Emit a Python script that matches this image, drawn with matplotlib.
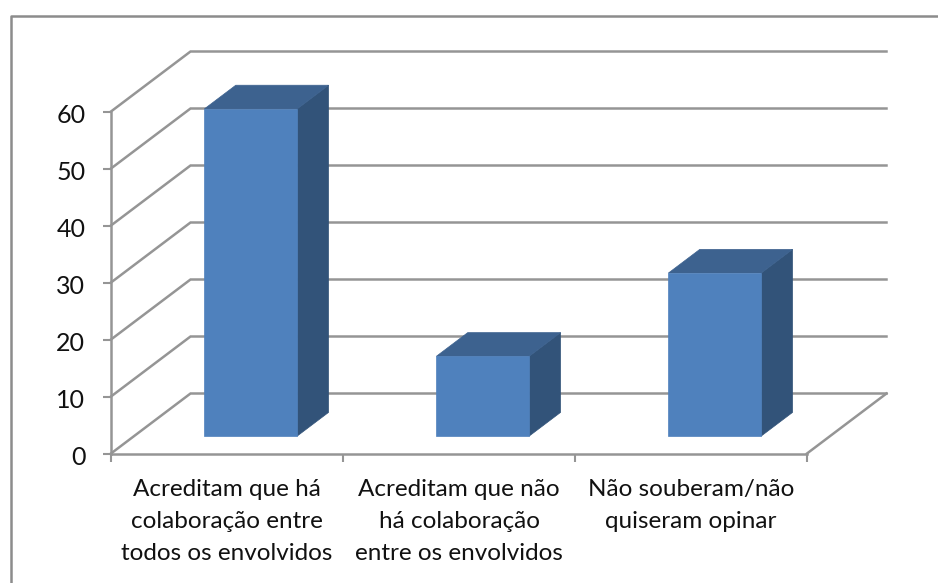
import matplotlib
matplotlib.use('Agg')
import matplotlib.pyplot as plt
from matplotlib.lines import Line2D
from matplotlib.patches import Polygon
from matplotlib.transforms import ScaledTranslation

categorias = ['Acreditam que há\ncolaboração entre\ntodos os envolvidos',
              'Acreditam que não\nhá colaboração\nentre os envolvidos',
              'Não souberam/não\nquiseram opinar']
valores = [57.4, 14, 28.6]
ticks_y = [0, 10, 20, 30, 40, 50, 60]

W, H = 938, 583
plt.rcParams['font.family'] = ['Lato', 'DejaVu Sans']

fig = plt.figure(figsize=(W/100, H/100), dpi=100)
ax = fig.add_axes([111/W, 1-453.5/H, 696/W, 342/H])
ax.set_xlim(0, 3)
ax.set_ylim(0, 60)
ax.patch.set_alpha(0)

cinza = '#959595'

# deslocamento obliquo da profundidade total, em unidades dos dados
prof_x = 79.5/232
prof_y = 60/5.7

def proj(x, y, d):
    return (x+prof_x*d, y+prof_y*d)

# paredes e grade
for v in ticks_y:
    p0 = proj(0, v, 0)
    p1 = proj(0, v, 1)
    p2 = proj(3, v, 1)
    ax.plot([p0[0], p1[0], p2[0]], [p0[1], p1[1], p2[1]], color=cinza, lw=1.8, clip_on=False, zorder=1, solid_joinstyle='miter')
p0 = proj(3, 0, 0)
p1 = proj(3, 0, 1)
ax.plot([p0[0], p1[0]], [p0[1], p1[1]], color=cinza, lw=1.8, clip_on=False, zorder=1)

# barras 3d
d0 = 0.29
d1 = 0.685
larg = 0.4
for i, v in enumerate(valores):
    x0 = i+0.503-larg/2
    x1 = i+0.503+larg/2
    topo = [proj(x0, v, d0), proj(x1, v, d0), proj(x1, v, d1), proj(x0, v, d1)]
    lado = [proj(x1, 0, d0), proj(x1, v, d0), proj(x1, v, d1), proj(x1, 0, d1)]
    frente = [proj(x0, 0, d0), proj(x1, 0, d0), proj(x1, v, d0), proj(x0, v, d0)]
    ax.add_patch(Polygon(lado, closed=True, fc='#325379', ec='#325379', lw=0.5, clip_on=False, zorder=3))
    ax.add_patch(Polygon(topo, closed=True, fc='#3d628f', ec='#3d628f', lw=0.5, clip_on=False, zorder=3))
    ax.add_patch(Polygon(frente, closed=True, fc='#4f81bd', ec='#4f81bd', lw=0.5, clip_on=False, zorder=4))

# eixos
for s in ['top', 'right']:
    ax.spines[s].set_visible(False)
for s in ['left', 'bottom']:
    ax.spines[s].set_color(cinza)
    ax.spines[s].set_linewidth(1.8)
ax.set_yticks(ticks_y)
ax.set_xticks([0, 1, 2, 3])
ax.set_xticklabels([])
ax.set_xticks([0.5, 1.5, 2.5], minor=True)
ax.set_xticklabels(categorias, minor=True, fontsize=17.5, color='#111111', linespacing=1.63, va='top')
ax.tick_params(axis='x', which='minor', length=0, pad=18.5)
ax.tick_params(axis='x', which='major', length=5.5, width=1.5, color=cinza)
ax.tick_params(axis='y', length=5.5, width=1.5, color=cinza, labelsize=18, labelcolor='#111111', pad=13)

# desce um pouco os numeros do eixo y
desce = ScaledTranslation(0, -2/100, fig.dpi_scale_trans)
for t in ax.get_yticklabels():
    t.set_transform(t.get_transform()+desce)

# moldura do grafico
moldura = Line2D([10.5/W, 10.5/W, 1],
                 [0, 1-16/H, 1-16/H],
                 transform=fig.transFigure, color='#8c8c8c', lw=1.8)
fig.add_artist(moldura)

fig.savefig('out.png', dpi=100)
